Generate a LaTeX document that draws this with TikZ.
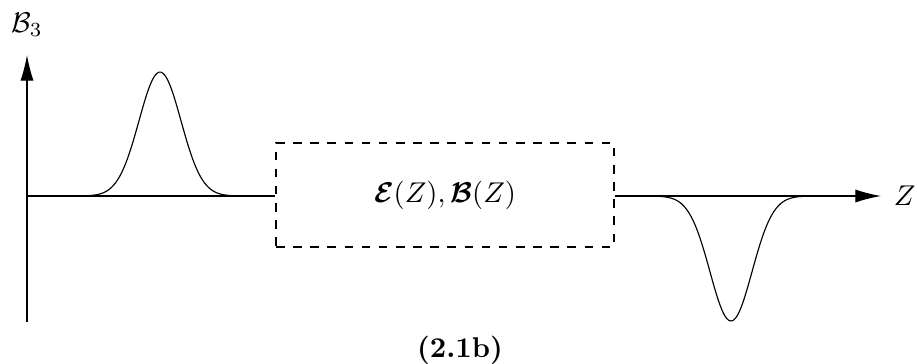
\documentclass[tikz,border=0pt]{standalone}
\usepackage{amsmath}
\usepackage{amssymb,amsfonts}
\usepackage{bm}
\usepackage{tikz}
\usetikzlibrary{arrows.meta,positioning}
\tikzset{
    axisline/.style={-{Latex[length=9pt,width=4.6pt]}},
    fieldbox/.style={draw, dashed, rectangle, minimum width=118.3pt, minimum height=36.4pt, inner sep=0pt},
    pulse/.style={smooth, samples=90}
}

\begin{document}
\begin{tikzpicture}[x=0.35pt, y=-0.35pt]
        \useasboundingbox (0,0) rectangle (917,363);

        \coordinate (origin) at (27,196);
        \coordinate (ytop) at (27,55);
        \coordinate (ybot) at (27,322);
        \coordinate (xend) at (881,196);

        \node[fieldbox] (field) at (445,195) {$\boldsymbol{\mathcal{E}}(Z),\boldsymbol{\mathcal{B}}(Z)$};
        \node (blabel) at (27,25) {$\mathcal{B}_3$};
        \node[right=1pt of xend] (zlabel) {$Z$};
        \node (caption) at (460,350) {\textbf{(2.1b)}};

        \draw[axisline] (ybot) -- (ytop);
        \draw (origin) -- (origin -| field.west);
        \draw[axisline] (xend -| field.east) -- (xend);

        % incoming and outgoing pulses
        \draw[pulse] plot[domain=60:260] (\x, {196-124*exp(-((\x-160)/21)^2/2)});
        \draw[pulse] plot[domain=630:830] (\x, {196+125*exp(-((\x-731)/21)^2/2)});
    \end{tikzpicture}
\end{document}
